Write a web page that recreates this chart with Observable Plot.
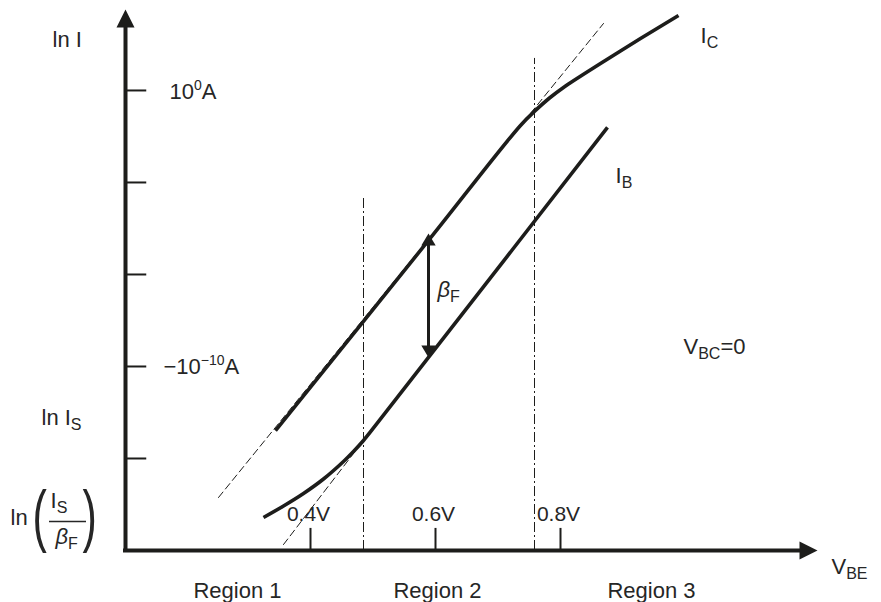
<!DOCTYPE html>
<html>
<head>
<meta charset="utf-8">
<script src="https://cdn.jsdelivr.net/npm/d3@7"></script>
<script src="https://cdn.jsdelivr.net/npm/@observablehq/plot@0.6"></script>
<style>
  html, body { margin: 0; padding: 0; background: #fff; }
  #chart svg { display: block; }
</style>
</head>
<body>
<div id="chart"></div>
<script>
// ---------- data (V_BE in volts, ln I in arbitrary decade-like units) ----------
const icV  = [0.344, 0.5888, 0.736, 0.760, 0.7824, 0.8048, 0.864, 0.928, 0.9888];
const icLn = [1.304, 3.370, 4.620, 4.783, 4.918, 5.033, 5.293, 5.565, 5.815];

const ibV  = [0.3248, 0.3568, 0.3888, 0.4208, 0.4528, 0.4688, 0.4848, 0.504, 0.5888, 0.8752];
const ibLn = [0.359, 0.4837, 0.6196, 0.7772, 0.9674, 1.0761, 1.1957, 1.3587, 2.098, 4.598];

const icIdealV  = [0.2528, 0.8688];
const icIdealLn = [0.576, 5.728];
const ibIdealV  = [0.3568, 0.4848];
const ibIdealLn = [0.065, 1.196];

const regionBoundV   = [0.4848, 0.7584];
const regionBoundTop = [3.837, 5.348];

const yTicks = [1, 2, 3, 4, 5];
const xTicks = [0.4, 0.6, 0.8];
const xTickLabels = ["0.4V", "0.6V", "0.8V"];

const regionNames = ["Region 1", "Region 2", "Region 3"];
const regionCenterV = [0.2832, 0.6032, 0.9456];

const betaV = 0.5888, betaLow = 2.098, betaHigh = 3.446;

// ---------- annotation labels (data coordinates) ----------
const labels = [
  {t: "ln I",            v: -0.0128, y: 5.467},
  {t: "10^{0}A",         v: 0.1744,  y: 4.902},
  {t: "\u221210^{\u221210}A", v: 0.1648, y: 1.913},
  {t: "ln I_{S}",        v: -0.0304, y: 1.359},
  {t: "ln",              v: -0.080,  y: 0.272},
  {t: "I_{S}",           v: -0.016,  y: 0.467},
  {t: "I_{C}",           v: 1.024,   y: 5.511},
  {t: "I_{B}",           v: 0.888,   y: 3.989},
  {t: "V_{BC}=0",        v: 0.9968,  y: 2.141},
  {t: "V_{BE}",          v: 1.2336,  y: -0.25}
];
const italicLabels = [
  {t: "\u03b2_{F}", v: 0.6032, y: 2.75},
  {t: "\u03b2_{F}", v: -0.008, y: 0.076}
];
const parens = [
  {t: "(", v: -0.0448, y: 0.130},
  {t: ")", v: 0.0352,  y: 0.130}
];

// ---------- build ----------
const INK = "#1d1d1b";
const TXT = "#262626";
const xDomain = [0.104, 1.2112];
const yDomain = [0, 5.88];

const toRows = (vs, ls) => vs.map((v, i) => ({v, y: ls[i]}));
const ic = toRows(icV, icLn), ib = toRows(ibV, ibLn);
const icIdeal = toRows(icIdealV, icIdealLn), ibIdeal = toRows(ibIdealV, ibIdealLn);
const bounds = regionBoundV.map((v, i) => ({v, top: regionBoundTop[i]}));

// arrowhead symbol: tip at the anchor point, base below it
const head = (ratio) => ({
  draw(ctx, size) {
    const r = Math.sqrt(size / Math.PI);
    const h = 2 * r, w = h * ratio;
    ctx.moveTo(0, 0);
    ctx.lineTo(w / 2, h);
    ctx.lineTo(-w / 2, h);
    ctx.closePath();
  }
});

const plot = Plot.plot({
  width: 881,
  height: 602,
  x: {domain: xDomain, range: [125, 817], axis: null},
  y: {domain: yDomain, range: [550, 9], axis: null},
  style: {fontFamily: "'Liberation Sans', Arial, Helvetica, sans-serif", background: "#fff"},
  marks: [
    // region boundaries (dash-dot)
    Plot.ruleX(bounds, {x: "v", y1: 0, y2: "top", stroke: INK, strokeWidth: 1, strokeDasharray: "10,3,2,3"}),
    // ideal asymptotes (dashed)
    Plot.line(icIdeal, {x: "v", y: "y", stroke: INK, strokeWidth: 1, strokeDasharray: "7,4"}),
    Plot.line(ibIdeal, {x: "v", y: "y", stroke: INK, strokeWidth: 1, strokeDasharray: "7,4"}),
    // curves
    Plot.line(ic, {x: "v", y: "y", curve: "catmull-rom", stroke: INK, strokeWidth: 3.6, strokeLinecap: "butt"}),
    Plot.line(ib, {x: "v", y: "y", curve: "catmull-rom", stroke: INK, strokeWidth: 3.6, strokeLinecap: "butt"}),
    // axes
    Plot.ruleX([xDomain[0]], {y1: -0.022, y2: yDomain[1] - 0.13, stroke: INK, strokeWidth: 4}),
    Plot.ruleY([0], {x1: xDomain[0] - 0.0032, x2: xDomain[1] - 0.02, stroke: INK, strokeWidth: 4}),
    Plot.dot([{v: xDomain[0], y: yDomain[1], a: 0}, {v: xDomain[1], y: 0, a: 90}],
      {x: "v", y: "y", rotate: "a", symbol: head(1), r: 9, fill: INK, stroke: null}),
    // ticks
    Plot.ruleY(yTicks, {y: d => d, x1: xDomain[0], x2: xDomain[0] + 0.034, stroke: INK, strokeWidth: 2}),
    Plot.ruleX(xTicks, {x: d => d, y1: 0, y2: 0.24, stroke: INK, strokeWidth: 2}),
    Plot.text(xTicks, {x: d => d, y: 0.326, text: (d, i) => xTickLabels[i], dx: -2,
      textAnchor: "middle", lineAnchor: "bottom", fontSize: 21, fill: TXT}),
    // beta_F arrow
    Plot.ruleX([betaV], {y1: betaLow + 0.1, y2: betaHigh - 0.1, stroke: INK, strokeWidth: 3}),
    Plot.dot([{v: betaV, y: betaHigh, a: 0}, {v: betaV, y: betaLow, a: 180}],
      {x: "v", y: "y", rotate: "a", symbol: head(1.2), r: 6, fill: INK, stroke: null}),
    // fraction bar of ln(I_S / beta_F)
    Plot.ruleY([0.315], {x1: -0.0176, x2: 0.0416, stroke: TXT, strokeWidth: 1.5}),
    // labels
    Plot.text(labels, {x: "v", y: "y", text: "t", textAnchor: "start", lineAnchor: "bottom", fontSize: 22, fill: TXT}),
    Plot.text(italicLabels, {x: "v", y: "y", text: "t", textAnchor: "start", lineAnchor: "bottom", fontSize: 22, fontStyle: "italic", fill: TXT}),
    Plot.text(parens, {x: "v", y: "y", text: "t", textAnchor: "start", lineAnchor: "bottom", fontSize: 43, fill: TXT}),
    Plot.text(regionNames, {x: (d, i) => regionCenterV[i], y: -0.5217, text: d => d,
      textAnchor: "middle", lineAnchor: "bottom", fontSize: 22, fill: TXT})
  ]
});

// ---------- rich text: _{sub} and ^{sup} into tspans ----------
const NS = "http://www.w3.org/2000/svg";
function rich(el) {
  const s = el.textContent;
  if (!/[_^]\{/.test(s)) return;
  el.textContent = "";
  let offset = 0;
  const push = (txt, kind) => {
    if (!txt) return;
    const t = document.createElementNS(NS, "tspan");
    const target = kind === "_" ? 5 : kind === "^" ? -9 : 0;
    if (target !== offset) t.setAttribute("dy", target - offset);
    offset = target;
    if (kind) {
      t.setAttribute("font-size", kind === "_" ? 16 : 14);
      t.setAttribute("font-style", "normal");
    }
    t.textContent = txt;
    el.appendChild(t);
  };
  const re = /([_^])\{([^}]*)\}/g;
  let last = 0, m;
  while ((m = re.exec(s))) {
    push(s.slice(last, m.index), null);
    push(m[2], m[1]);
    last = re.lastIndex;
  }
  push(s.slice(last), null);
}
plot.querySelectorAll("text").forEach(el => {
  const s = el.textContent;
  if (s === "(" || s === ")") {
    el.setAttribute("transform", (el.getAttribute("transform") || "") + " scale(1,1.6)");
  } else {
    rich(el);
  }
});

document.getElementById("chart").appendChild(plot);
</script>
</body>
</html>
